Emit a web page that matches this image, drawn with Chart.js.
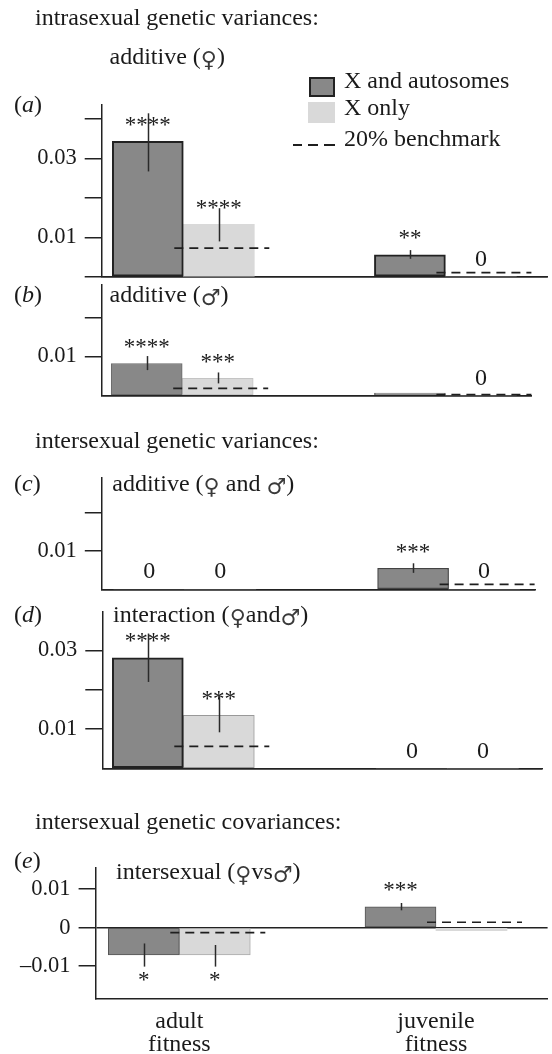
<!DOCTYPE html>
<html><head><meta charset="utf-8">
<script src="https://cdn.jsdelivr.net/npm/chart.js@4.4.1/dist/chart.umd.min.js"></script>
<style>
body{margin:0;background:#fff;}
#fig{position:relative;width:552px;height:1054px;overflow:hidden;font-family:"Liberation Serif","Times New Roman",serif;color:#1a1a1a;}
.t{position:absolute;white-space:nowrap;font-size:24px;line-height:24px;}
.sym{font-family:"DejaVu Sans";font-size:22px;font-weight:normal;color:#3a3a3a;line-height:0;vertical-align:-3px;}
canvas{position:absolute;left:0;top:0;pointer-events:none;}
.sw{position:absolute;box-sizing:border-box;}
</style></head>
<body>
<div id="fig">
<canvas id="ca" width="552" height="1054"></canvas>
<canvas id="cb" width="552" height="1054"></canvas>
<canvas id="cc" width="552" height="1054"></canvas>
<canvas id="cd" width="552" height="1054"></canvas>
<canvas id="ce" width="552" height="1054"></canvas>
</div>
<script>
// ---------- data ----------
const categories = ['adult fitness', 'juvenile fitness'];
const seriesNames = ['X and autosomes', 'X only', '20% benchmark'];

// (a) additive (female)
const aDark = [0.0343, 0.0056];
const aDarkLo = [0.0267, 0.0046];
const aDarkHi = [0.0414, 0.0068];
const aLight = [0.0133, 0];
const aLightLo = [0.0090, null];
const aLightHi = [0.0174, null];
const aBench = [0.0073, 0.0011];
const aDarkSig = ['****', '**'];
const aLightSig = ['****', '0'];
const aTicks = ['0.01', '0.03'];

// (b) additive (male)
const bDark = [0.0082, 0.0006];
const bDarkLo = [0.0065, null];
const bDarkHi = [0.0101, null];
const bLight = [0.0044, 0];
const bLightLo = [0.0031, null];
const bLightHi = [0.0059, null];
const bBench = [0.0018, 0.0002];
const bDarkSig = ['****', ''];
const bLightSig = ['***', '0'];
const bTicks = ['0.01'];

// (c) intersexual additive
const cDark = [0, 0.0055];
const cDarkLo = [null, 0.0043];
const cDarkHi = [null, 0.0068];
const cLight = [0, 0];
const cLightLo = [null, null];
const cLightHi = [null, null];
const cBench = [null, 0.0013];
const cDarkSig = ['0', '***'];
const cLightSig = ['0', '0'];
const cTicks = ['0.01'];

// (d) interaction
const dDark = [0.0281, 0];
const dDarkLo = [0.0220, null];
const dDarkHi = [0.0343, null];
const dLight = [0.0135, 0];
const dLightLo = [0.0092, null];
const dLightHi = [0.0184, null];
const dBench = [0.0056, null];
const dDarkSig = ['****', '0'];
const dLightSig = ['***', '0'];
const dTicks = ['0.01', '0.03'];

// (e) intersexual covariance
const eDark = [-0.0071, 0.0054];
const eDarkLo = [-0.0101, 0.0045];
const eDarkHi = [-0.0041, 0.0064];
const eLight = [-0.0071, -0.0008];
const eLightLo = [-0.0101, null];
const eLightHi = [-0.0045, null];
const eBench = [-0.0013, 0.0014];
const eDarkSig = ['*', '***'];
const eLightSig = ['*', ''];
const eTicks = ['\u20130.01', '0', '0.01'];

// ---------- layout / style ----------
const FONT = '"Liberation Serif","Times New Roman",serif';
const INK = '#1a1a1a';
const panels = [
  {id:'ca', dark:aDark, dLo:aDarkLo, dHi:aDarkHi, light:aLight, lLo:aLightLo, lHi:aLightHi, bench:aBench, dSig:aDarkSig, lSig:aLightSig, ticks:aTicks,
   L:{top:105, base:277, axisX:101.7, right:547.6, c0:183.3, c1:445.4, yMin:0, yMax:0.0435, zeroTick:true, darkBorder:'#222', darkBW:2, lightBorder:'#cfcfcf', lightBW:0}},
  {id:'cb', dark:bDark, dLo:bDarkLo, dHi:bDarkHi, light:bLight, lLo:bLightLo, lHi:bLightHi, bench:bBench, dSig:bDarkSig, lSig:bLightSig, ticks:bTicks,
   L:{top:285, base:395.5, axisX:101.8, right:531.8, c0:182.2, c1:445.4, yMin:0, yMax:0.0283, zeroTick:false, darkBorder:'#6a6a6a', darkBW:1, lightBorder:'#c4c4c4', lightBW:1}},
  {id:'cc', dark:cDark, dLo:cDarkLo, dHi:cDarkHi, light:cLight, lLo:cLightLo, lHi:cLightHi, bench:cBench, dSig:cDarkSig, lSig:cLightSig, ticks:cTicks,
   L:{top:478, base:589.3, axisX:101.8, right:535, c0:184.8, c1:448.6, yMin:0, yMax:0.0291, zeroTick:false, darkBorder:'#444', darkBW:1.2, lightBorder:'#c4c4c4', lightBW:0}},
  {id:'cd', dark:dDark, dLo:dDarkLo, dHi:dDarkHi, light:dLight, lLo:dLightLo, lHi:dLightHi, bench:dBench, dSig:dDarkSig, lSig:dLightSig, ticks:dTicks,
   L:{top:611.5, base:768.5, axisX:102.3, right:542, c0:183.3, c1:447.4, yMin:0, yMax:0.0399, zeroTick:false, darkBorder:'#222', darkBW:2, lightBorder:'#999999', lightBW:1}},
  {id:'ce', dark:eDark, dLo:eDarkLo, dHi:eDarkHi, light:eLight, lLo:eLightLo, lHi:eLightHi, bench:eBench, dSig:eDarkSig, lSig:eLightSig, ticks:eTicks,
   L:{top:867.7, base:999, axisX:95.6, right:547.6, c0:179.3, c1:436, yMin:-0.0185, yMax:0.01555, zeroTick:true, darkBorder:'#555', darkBW:1, lightBorder:'#aaaaaa', lightBW:1}}
];
const LAST = panels.length - 1;

const annotPlugin = {
  id: 'annot',
  afterDatasetsDraw(chart, args, opts) {
    const P = opts.panel;
    const ctx = chart.ctx, xs = chart.scales.x, ys = chart.scales.y;
    ctx.save();
    // error bars
    [[P.dLo, P.dHi, 0], [P.lLo, P.lHi, 1]].forEach(([lo, hi, di]) => {
      const meta = chart.getDatasetMeta(di);
      lo.forEach((l, i) => {
        if (l === null || hi[i] === null) return;
        const x = Math.round(meta.data[i].x) + 0.5;
        ctx.beginPath();
        ctx.strokeStyle = '#2a2a2a';
        ctx.lineWidth = 1.5;
        ctx.moveTo(x, ys.getPixelForValue(hi[i]));
        ctx.lineTo(x, ys.getPixelForValue(l));
        ctx.stroke();
      });
    });
    // 20% benchmark
    ctx.setLineDash([9, 6]);
    ctx.lineWidth = 1.7;
    ctx.strokeStyle = '#1e1e1e';
    P.bench.forEach((v, i) => {
      if (v === null) return;
      const cx = xs.getPixelForValue(i);
      const y = ys.getPixelForValue(v);
      ctx.beginPath();
      ctx.moveTo(cx - 9, y);
      ctx.lineTo(cx + 86, y);
      ctx.stroke();
    });
    ctx.setLineDash([]);
    // significance labels
    ctx.fillStyle = INK;
    ctx.textAlign = 'center';
    ctx.textBaseline = 'alphabetic';
    [[P.dark, P.dSig, 0], [P.light, P.lSig, 1]].forEach(([vals, sig, di]) => {
      const meta = chart.getDatasetMeta(di);
      sig.forEach((s, i) => {
        if (!s) return;
        const x = meta.data[i].x;
        const v = vals[i];
        if (s === '0') {
          ctx.font = '24px ' + FONT;
          ctx.fillText(s, x, ys.getPixelForValue(0) - 19 + 8);
        } else {
          ctx.font = '23px ' + FONT;
          const c = v >= 0 ? ys.getPixelForValue(v) - 21 : ys.getPixelForValue(v) + 20;
          ctx.fillText(s, x, c + 11.5);
        }
      });
    });
    ctx.restore();
  }
};

function tickMatch(list, value) {
  for (const t of list) {
    const n = parseFloat(t.replace('\u2013', '-'));
    if (Math.abs(n - value) < 1e-7) return t;
  }
  return '';
}

panels.forEach((P, pi) => {
  const L = P.L;
  const unit = L.c1 - L.c0;
  const xMin = -(L.c0 - L.axisX) / unit;
  const xMax = 1 + (L.right - L.c1) / unit;
  new Chart(document.getElementById(P.id), {
    type: 'bar',
    data: {
      datasets: [
        {label: seriesNames[0], data: P.dark.map((v, i) => ({x: i, y: v})),
         backgroundColor: '#888888', borderColor: L.darkBorder,
         borderWidth: c => (c.raw && c.raw.y !== 0 ? L.darkBW : 0), borderSkipped: false},
        {label: seriesNames[1], data: P.light.map((v, i) => ({x: i, y: v})),
         backgroundColor: '#d9d9d9', borderColor: L.lightBorder,
         borderWidth: c => (c.raw && Math.abs(c.raw.y) > 0.002 ? L.lightBW : 0), borderSkipped: false}
      ]
    },
    options: {
      responsive: false,
      animation: false,
      devicePixelRatio: 1,
      barThickness: 71,
      layout: {padding: {top: L.top, right: 552 - L.right, left: 0, bottom: 0}},
      plugins: {legend: {display: false}, tooltip: {enabled: false}, annot: {panel: P}},
      scales: {
        x: {
          type: 'linear', offset: false, min: xMin, max: xMax,
          afterBuildTicks: s => { s.ticks = categories.map((c, i) => ({value: i})); },
          afterFit: s => { s.height = 1054 - L.base; },
          grid: {display: false, drawTicks: false},
          border: {display: true, color: '#222', width: 1.5},
          ticks: {display: pi === LAST, autoSkip: false, maxRotation: 0, padding: 11, color: INK,
                  font: {family: FONT, size: 24, lineHeight: 0.97},
                  callback: (v) => { const c = categories[Math.round(v)]; return c ? c.split(' ') : ''; }}
        },
        y: {
          type: 'linear', min: L.yMin, max: L.yMax,
          afterFit: s => { s.width = L.axisX; },
          border: {display: true, color: '#222', width: 1.5},
          grid: {
            drawOnChartArea: true, drawTicks: true, tickLength: 17, lineWidth: 1.5,
            color: c => (c.tick && Math.abs(c.tick.value) < 1e-9 ? '#222' : 'rgba(0,0,0,0)'),
            tickColor: c => (c.tick && Math.abs(c.tick.value) < 1e-9 ? (L.zeroTick ? '#222' : 'rgba(0,0,0,0)') : '#222')
          },
          ticks: {stepSize: 0.01, includeBounds: false, padding: 8, color: INK,
                  font: {family: FONT, size: 22.5},
                  callback: v => tickMatch(P.ticks, v)}
        }
      }
    },
    plugins: [annotPlugin]
  });
});

// ---------- text ----------
const F = '<span class="sym">\u2640</span>';
const M = '<span class="sym">\u2642</span>';
const texts = [
  ['intrasexual genetic variances:', 35, 25],
  ['additive (' + F + ')', 109.5, 64],
  ['(<i>a</i>)', 14, 112],
  [seriesNames[0], 344, 88.3],
  [seriesNames[1], 344, 115],
  [seriesNames[2], 344, 145.7],
  ['(<i>b</i>)', 14, 302],
  ['additive (' + M + ')', 109.5, 302],
  ['intersexual genetic variances:', 35, 448.3],
  ['(<i>c</i>)', 14, 490.7],
  ['additive (' + F + ' and ' + M + ')', 112.3, 490.7],
  ['(<i>d</i>)', 14, 622],
  ['interaction (' + F + 'and' + M + ')', 113, 622.5],
  ['intersexual genetic covariances:', 35, 829.3],
  ['(<i>e</i>)', 14, 868.3],
  ['intersexual (' + F + 'vs' + M + ')', 116, 879]
];
const fig = document.getElementById('fig');
texts.forEach(([h, x, b]) => {
  const d = document.createElement('div');
  d.className = 't';
  d.innerHTML = h;
  d.style.left = x + 'px';
  d.style.top = (b - 20.1) + 'px';
  fig.appendChild(d);
});
// legend swatches
function sw(l, t, w, h, css) {
  const d = document.createElement('div');
  d.className = 'sw';
  d.style.cssText += `left:${l}px;top:${t}px;width:${w}px;height:${h}px;${css}`;
  fig.appendChild(d);
}
sw(308.5, 77, 26.5, 20, 'background:#888;border:2px solid #222;');
sw(308, 102, 27, 21, 'background:#d9d9d9;');
sw(293, 144, 9, 2, 'background:#1e1e1e;');
sw(308, 144, 10, 2, 'background:#1e1e1e;');
sw(324, 144, 11, 2, 'background:#1e1e1e;');
</script>
</body></html>
